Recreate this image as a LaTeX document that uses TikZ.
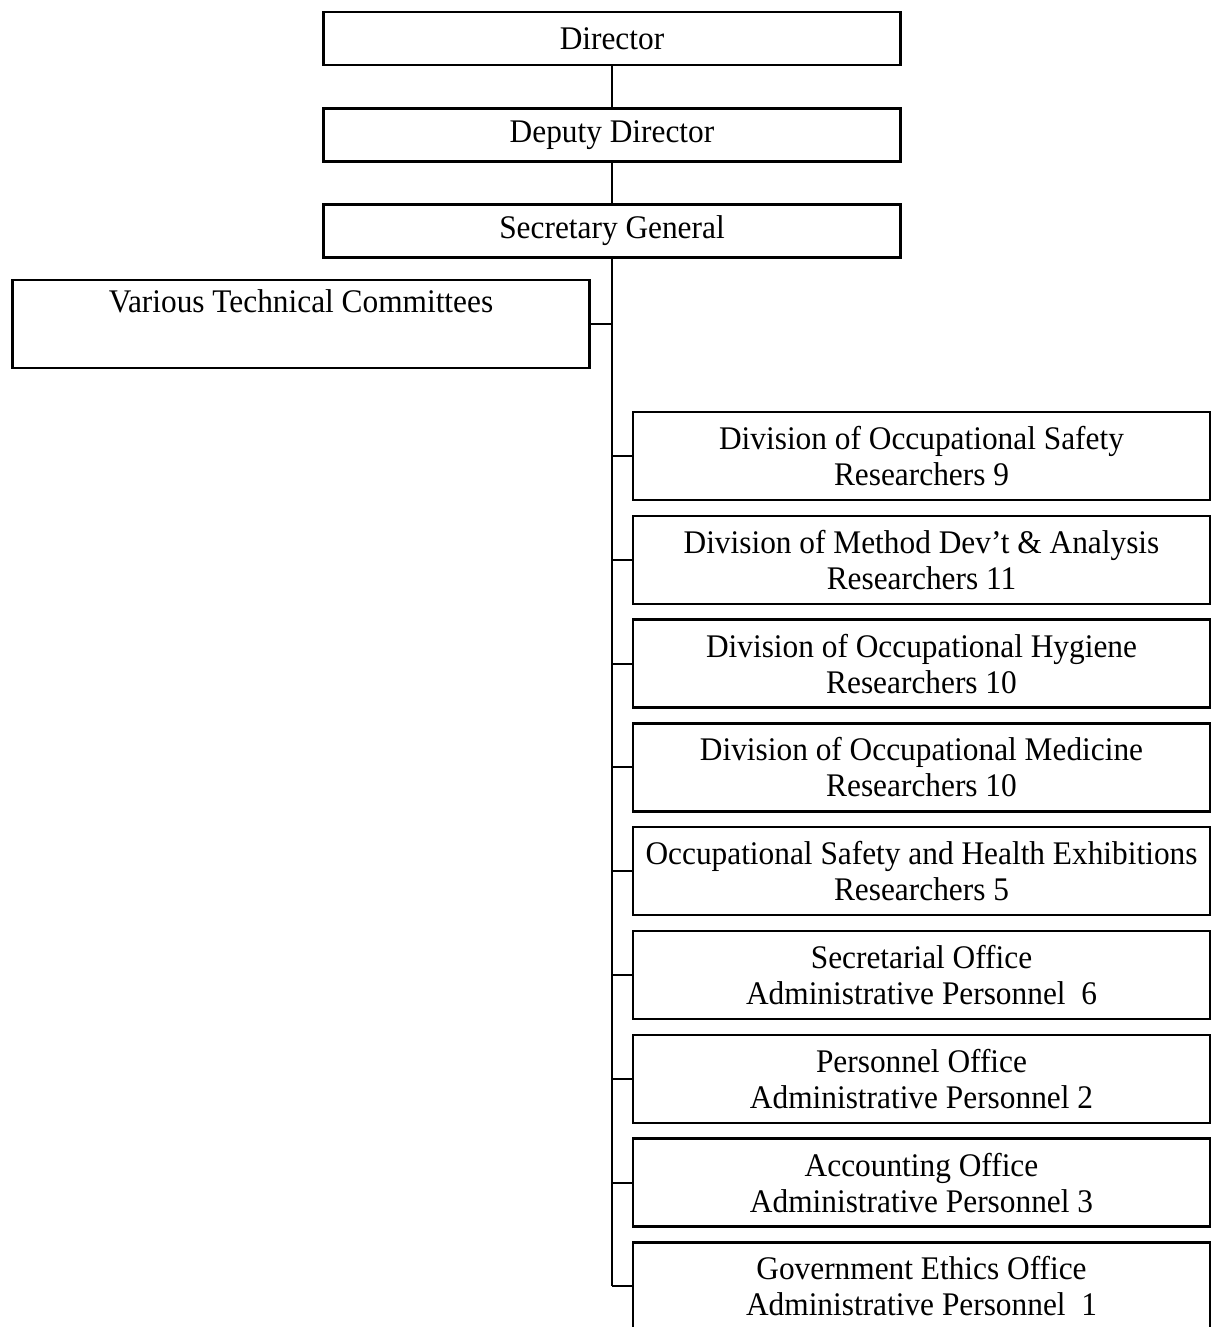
\documentclass[tikz,border=0pt]{standalone}
\usepackage{fontspec}
\setmainfont{Liberation Serif}[FakeStretch=0.95]
\usetikzlibrary{positioning}
\tikzset{
    unit/.style = {draw,line width=1.2pt,rectangle,minimum width=288.5pt,minimum height=44pt,inner sep=2pt,align=center,font=\fontsize{16.5}{18}\selectfont},
    head/.style = {unit,minimum height=26.5pt},
    link/.style = {line width=1pt}
}

\begin{document}
\begin{tikzpicture}[x=0.5pt,y=-0.5pt,node distance=6.7pt]
        \useasboundingbox[fill=white] (0,0) rectangle (1212,1327);
        % Heads
        \path (612,38.5) node[head] (dir) {Director}
            (612,135) node[head] (depdir) {Deputy Director}
            (612,231) node[head] (secgen) {Secretary General}
        ;
        % Committees
        \path (301,324) node[unit] (comm) {Various Technical Committees\\ \strut}
        ;
        % Divisions and offices
        \path (921.5,456) node[unit] (safety) {Division of Occupational Safety\\Researchers 9};
        \node[unit,below=of safety] (method) {Division of Method Dev't \& Analysis\\Researchers 11};
        \node[unit,below=of method] (hygiene) {Division of Occupational Hygiene\\Researchers 10};
        \node[unit,below=of hygiene] (medicine) {Division of Occupational Medicine\\Researchers 10};
        \node[unit,below=of medicine] (exhib) {Occupational Safety and Health Exhibitions\\Researchers 5};
        \node[unit,below=of exhib] (secret) {Secretarial Office\\Administrative Personnel~~6};
        \node[unit,below=of secret] (person) {Personnel Office\\Administrative Personnel 2};
        \node[unit,below=of person] (account) {Accounting Office\\Administrative Personnel 3};
        \node[unit,below=of account] (ethics) {Government Ethics Office\\Administrative Personnel~~1};
        % Links
        \foreach \src/\dest in {dir/depdir,depdir/secgen}
            \draw[link] (\src) -- (\dest);
        \draw[link] (secgen.south) -- (secgen.south |- ethics.west);
        \draw[link] (comm.east) -- (comm.east -| secgen.south);
        \foreach \dest in {safety,method,hygiene,medicine,exhib,secret,person,account,ethics}
            \draw[link] (\dest.west) -- (\dest.west -| secgen.south);
\end{tikzpicture}
\end{document}
